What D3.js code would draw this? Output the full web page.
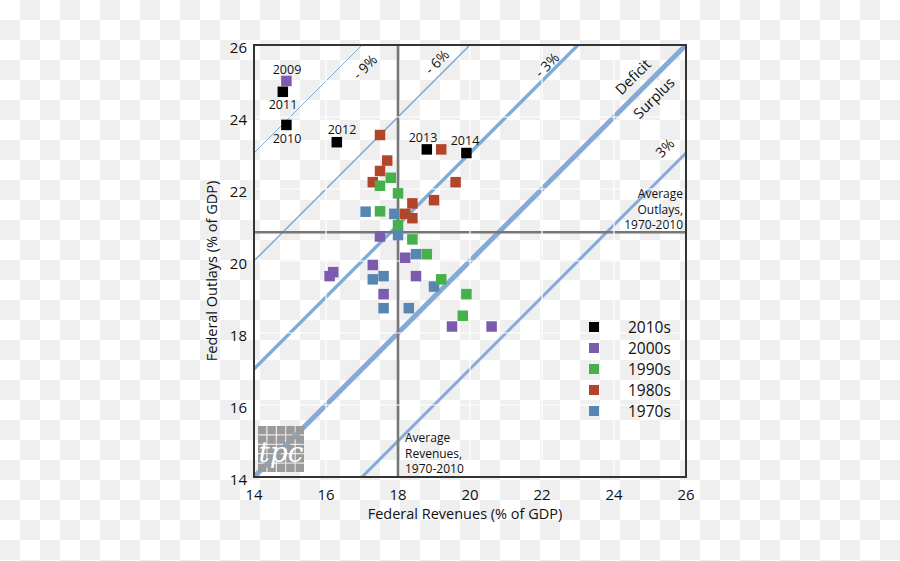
<!DOCTYPE html>
<html><head><meta charset="utf-8">
<script src="https://cdn.jsdelivr.net/npm/d3@7"></script>
<style>body{margin:0;background:#fff}svg{display:block;font-family:"Open Sans",sans-serif}</style>
</head><body><svg id="c" width="900" height="561"></svg>
<script>
// ---- data (revenues, outlays as % of GDP) ----
const decades = ["2010s","2000s","1990s","1980s","1970s"];
const decadeColors = ["#000000","#7a5bb0","#47af4b","#b3452a","#5786b2"];
const rev2010s = [14.9, 14.8, 16.3, 18.8, 19.9];
const out2010s = [23.78, 24.7, 23.3, 23.1, 23.0];
const yrs2010s = ["2010","2011","2012","2013","2014"];
const rev2000s = [14.9, 17.5, 18.2, 17.3, 16.2, 16.1, 17.6, 18.5, 19.5, 20.6];
const out2000s = [25.0, 20.68, 20.09, 19.89, 19.69, 19.58, 19.08, 19.58, 18.18, 18.18];
const rev1990s = [17.8, 17.5, 18.0, 17.5, 18.0, 18.4, 18.8, 19.2, 19.9, 19.8];
const out1990s = [22.31, 22.09, 21.88, 21.38, 21.0, 20.6, 20.19, 19.49, 19.08, 18.48];
const rev1980s = [17.5, 19.2, 17.7, 17.5, 17.3, 19.6, 19.0, 18.4, 18.2, 18.4];
const out1980s = [23.5, 23.1, 22.79, 22.5, 22.19, 22.19, 21.69, 21.6, 21.31, 21.19];
const rev1970s = [17.1, 17.9, 18.0, 18.5, 17.3, 17.6, 19.0, 17.6, 18.3];
const out1970s = [21.37, 21.31, 20.72, 20.19, 19.49, 19.58, 19.29, 18.69, 18.69];
const xTicks = [14,16,18,20,22,24,26];
const yTicks = [14,16,18,20,22,24,26];
const balanceLines = [-9,-6,-3,0,3];     // outlays - revenues offsets (deficit)
const balanceLabels = ["- 9%","- 6%","- 3%","","3%"];
const avgRevenue = 18.0, avgOutlays = 20.8;

const svg = d3.select("#c");
const x = d3.scaleLinear().domain([14,26]).range([254,686]);
const y = d3.scaleLinear().domain([14,26]).range([477,45]);

// checker background
const defs = svg.append("defs");
const pat = defs.append("pattern").attr("id","chk").attr("patternUnits","userSpaceOnUse").attr("width",40).attr("height",40);
pat.append("rect").attr("width",40).attr("height",40).attr("fill","#fff");
pat.append("rect").attr("x",20).attr("y",0).attr("width",20).attr("height",20).attr("fill","#efefef");
pat.append("rect").attr("x",0).attr("y",20).attr("width",20).attr("height",20).attr("fill","#efefef");
svg.append("rect").attr("width",900).attr("height",561).attr("fill","url(#chk)");
defs.append("clipPath").attr("id","clip").append("rect").attr("x",254).attr("y",45).attr("width",432).attr("height",432);

const plot = svg.append("g").attr("clip-path","url(#clip)");

// balance lines
const widths = {"-9":1,"-6":1.6,"-3":3.4,"0":5,"3":3};
balanceLines.forEach(d=>{
  const off = -d;
  const x0 = Math.max(14, 14-off), x1 = Math.min(26, 26-off);
  plot.append("line").attr("x1",x(x0)).attr("y1",y(x0+off)).attr("x2",x(x1)).attr("y2",y(x1+off))
    .attr("stroke","#83abd6").attr("stroke-width",widths[d]);
});
// average lines
plot.append("line").attr("x1",x(avgRevenue)).attr("x2",x(avgRevenue)).attr("y1",y(26)).attr("y2",y(14)).attr("stroke","#777").attr("stroke-width",2.6);
plot.append("line").attr("x1",x(14)).attr("x2",x(26)).attr("y1",y(avgOutlays)).attr("y2",y(avgOutlays)).attr("stroke","#777").attr("stroke-width",2.6);
// white gridlines (skipping the one under the average revenue line)
xTicks.slice(1,-1).filter(t=>t!==avgRevenue).forEach(t=>plot.append("line").attr("x1",x(t)).attr("x2",x(t)).attr("y1",45).attr("y2",477).attr("stroke","#fff").attr("stroke-width",1.2));
yTicks.slice(1,-1).forEach(t=>plot.append("line").attr("y1",y(t)).attr("y2",y(t)).attr("x1",254).attr("x2",686).attr("stroke","#fff").attr("stroke-width",1.2));

// logo
const logo = svg.append("g");
for(let i=0;i<5;i++)for(let j=0;j<5;j++){
  logo.append("rect").attr("x",258+i*9.4).attr("y",426+j*9.4).attr("width",8.4).attr("height",8.4).attr("fill","#9a9a9a");
}
logo.append("text").attr("x",281).attr("y",462).attr("text-anchor","middle").attr("fill","#fff")
  .attr("font-family","DejaVu Serif").attr("font-style","italic").attr("font-size",28).text("tpc");

// axes text
const tickFont = 15;
svg.append("g").selectAll("text").data(xTicks).join("text").attr("x",d=>x(d)).attr("y",500)
  .attr("text-anchor","middle").attr("font-size",tickFont).attr("fill","#111").text(d=>d);
svg.append("g").selectAll("text").data(yTicks).join("text").attr("x",247).attr("y",d=>y(d)+8)
  .attr("text-anchor","end").attr("font-size",tickFont).attr("fill","#111").text(d=>d);
svg.append("text").attr("x",465).attr("y",519).attr("text-anchor","middle").attr("font-size",14.5).attr("fill","#111").text("Federal Revenues (% of GDP)");
svg.append("text").attr("transform","translate(217,271) rotate(-90)").attr("text-anchor","middle").attr("font-size",14.5).attr("fill","#111").text("Federal Outlays (% of GDP)");

// frame
svg.append("rect").attr("x",254).attr("y",45).attr("width",432).attr("height",432).attr("fill","none").attr("stroke","#333").attr("stroke-width",2);

// balance labels
const lblPos = [[365,67],[437,62],[547,65],[0,0],[665,148]];
balanceLabels.forEach((t,i)=>{ if(!t) return;
  svg.append("text").attr("transform",`translate(${lblPos[i][0]},${lblPos[i][1]}) rotate(-45)`)
   .attr("text-anchor","middle").attr("dy","0.35em").attr("font-size",14).attr("fill","#111").text(t);
});
svg.append("text").attr("transform","translate(633,77) rotate(-45)").attr("text-anchor","middle").attr("dy","0.35em").attr("font-size",14.5).attr("fill","#111").text("Deficit");
svg.append("text").attr("transform","translate(654,98) rotate(-45)").attr("text-anchor","middle").attr("dy","0.35em").attr("font-size",14.5).attr("fill","#111").text("Surplus");

// average annotations
["Average","Outlays,","1970-2010"].forEach((t,i)=>svg.append("text").attr("x",683).attr("y",198+i*15.5).attr("text-anchor","end").attr("font-size",12).attr("fill","#111").text(t));
["Average","Revenues,","1970-2010"].forEach((t,i)=>svg.append("text").attr("x",405).attr("y",442+i*15.5).attr("text-anchor","start").attr("font-size",12).attr("fill","#111").text(t));

// points
const series = [
  [rev1970s,out1970s,4],[rev1980s,out1980s,3],[rev1990s,out1990s,2],[rev2000s,out2000s,1],[rev2010s,out2010s,0]
];
const S = 10.5;
series.forEach(([r,o,ci])=>{
  svg.append("g").selectAll("rect").data(r.map((v,i)=>[v,o[i]])).join("rect")
    .attr("x",d=>x(d[0])-S/2).attr("y",d=>y(d[1])-S/2).attr("width",S).attr("height",S)
    .attr("fill",decadeColors[ci]);
});
// year labels for 2010s and 2009
const yrLabelPos = [[287,143],[283,109],[342,134],[423,142],[465,145]];
yrs2010s.forEach((t,i)=>svg.append("text").attr("x",yrLabelPos[i][0]).attr("y",yrLabelPos[i][1]).attr("text-anchor","middle").attr("font-size",12.5).attr("fill","#111").text(t));
svg.append("text").attr("x",287).attr("y",74).attr("text-anchor","middle").attr("font-size",12.5).attr("fill","#111").text("2009");

// legend
decades.forEach((d,i)=>{
  const cy = 327 + i*21;
  svg.append("rect").attr("x",589).attr("y",cy-5).attr("width",10).attr("height",10).attr("fill",decadeColors[i]);
  svg.append("text").attr("x",628).attr("y",cy+6).attr("font-size",15.5).attr("fill","#111").text(d);
});
</script></body></html>
